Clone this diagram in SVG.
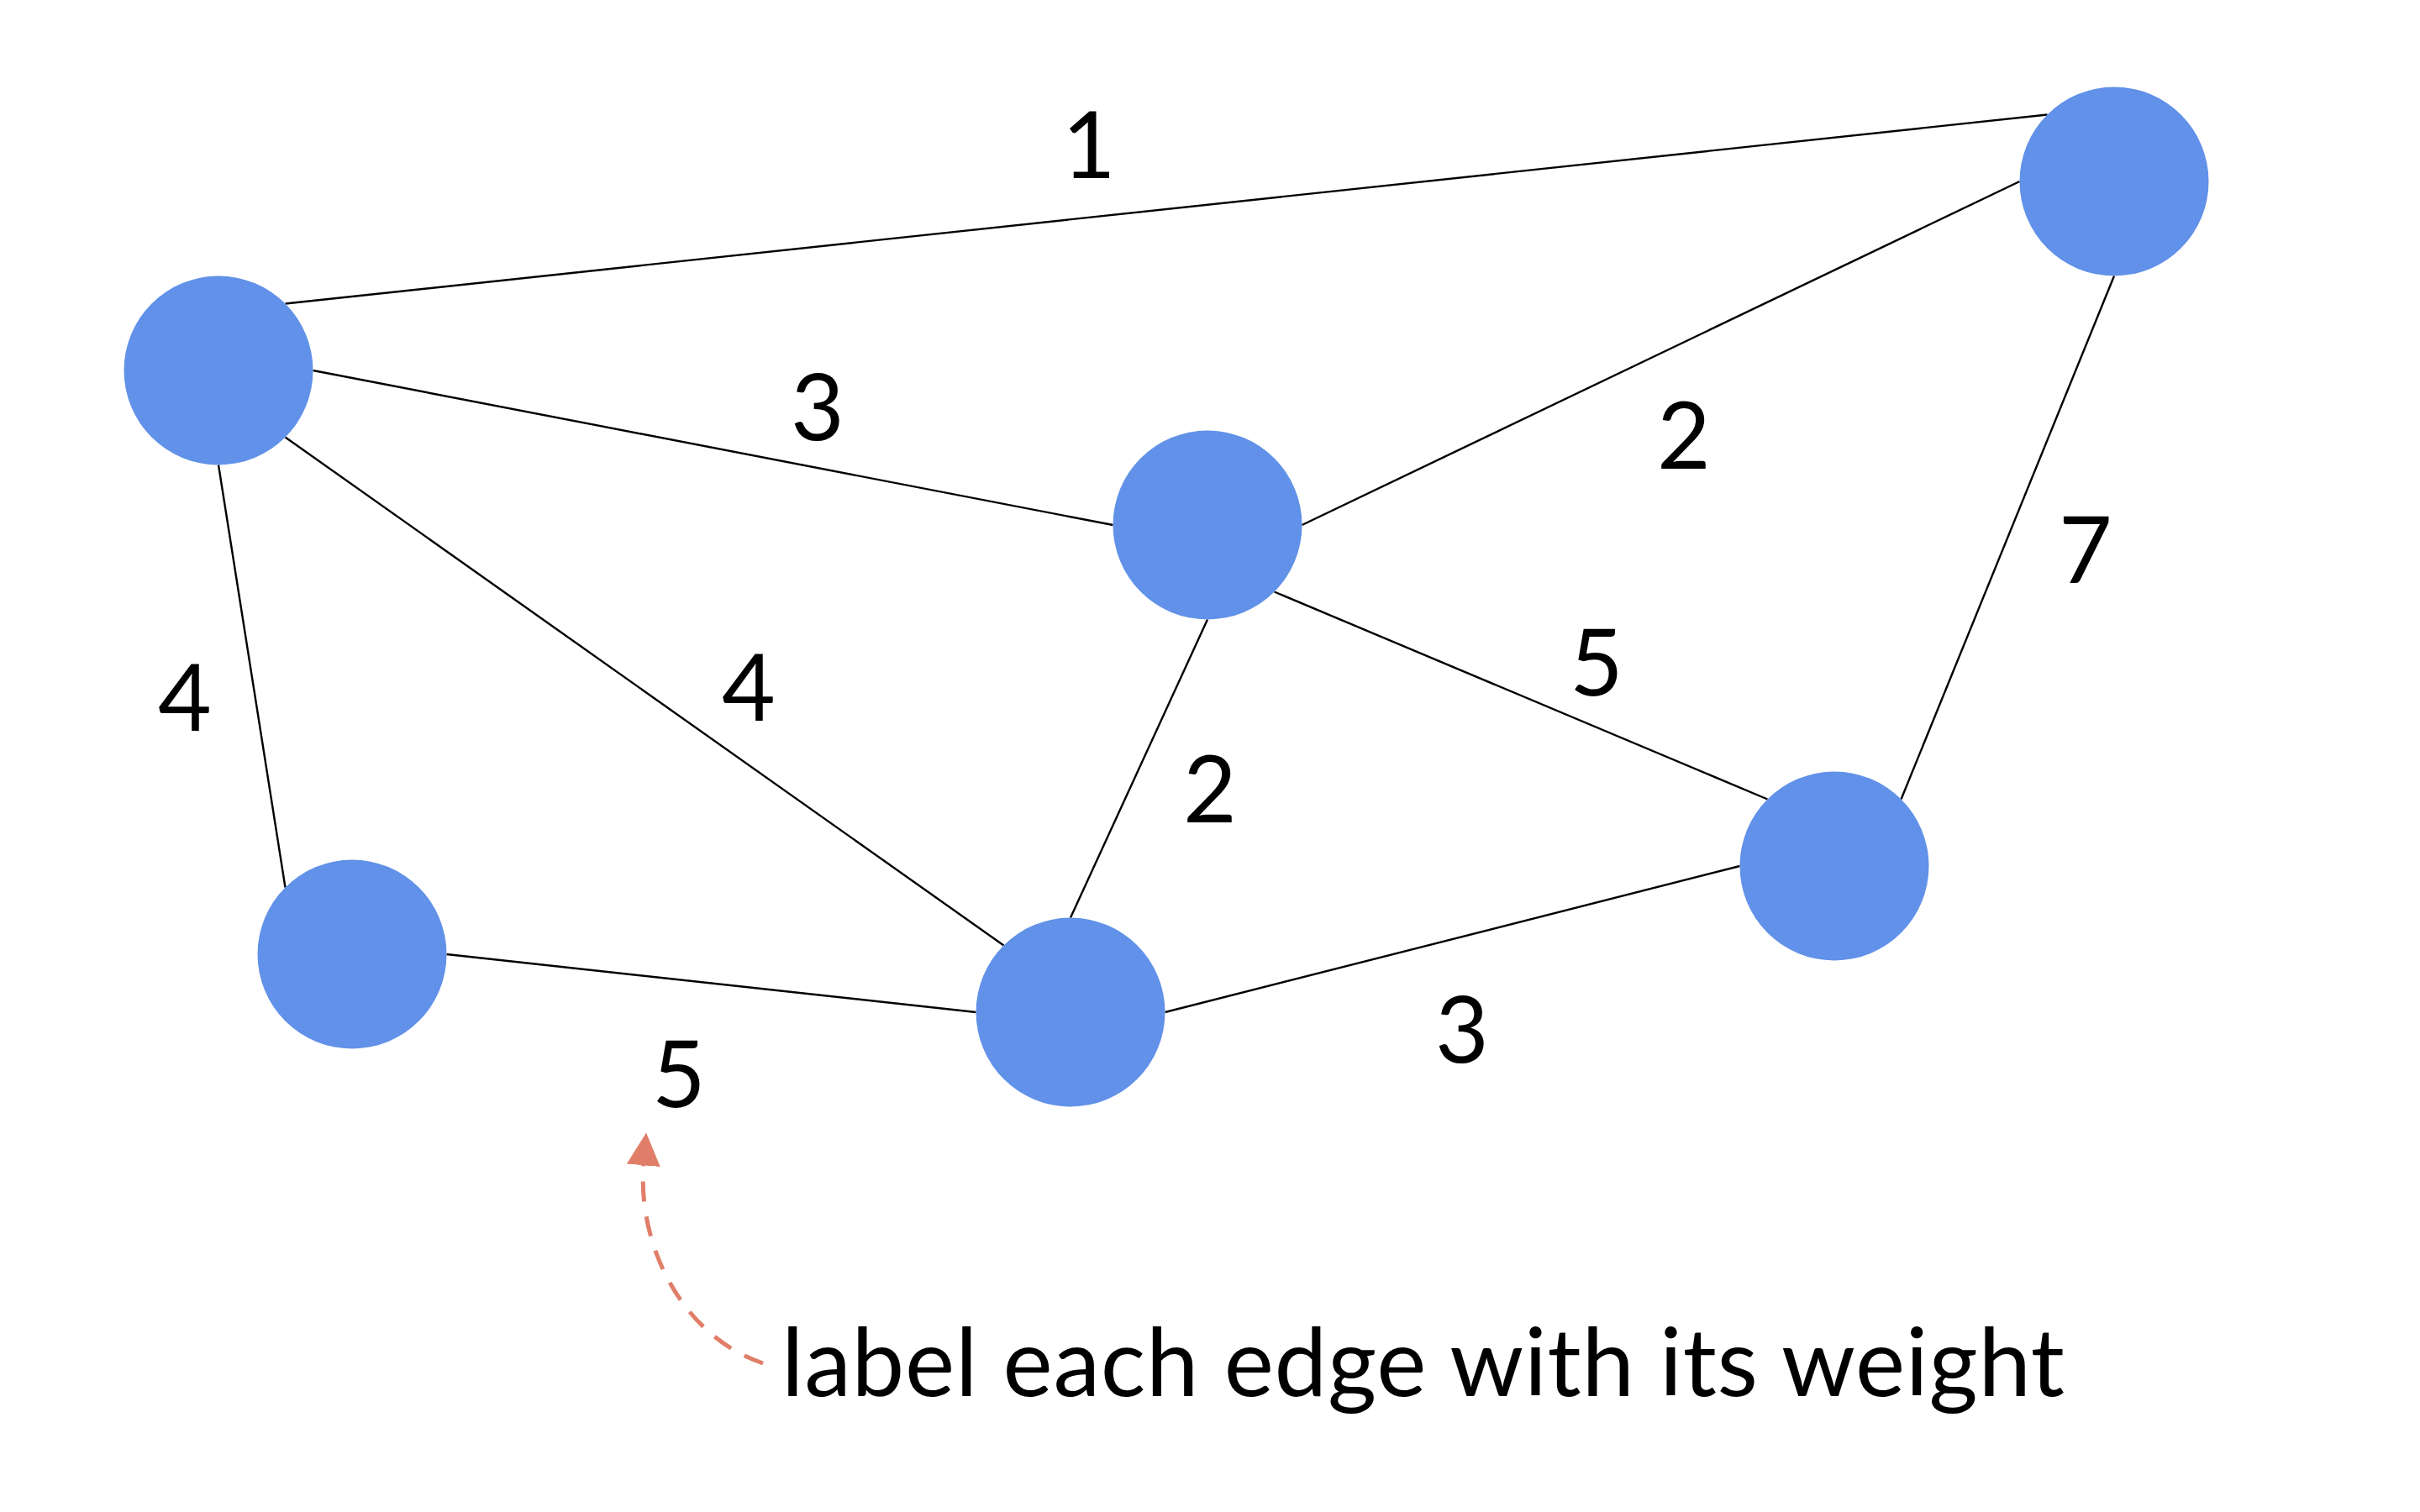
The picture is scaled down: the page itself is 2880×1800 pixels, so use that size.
<svg xmlns="http://www.w3.org/2000/svg" width="2880" height="1800" viewBox="0 0 2880 1800">
  <style>
    .node { fill: #6191E8; }
    .edge { stroke: #000000; stroke-width: 2.4; fill: none; }
    .w { font-family: Lato, "Liberation Sans", sans-serif; font-size: 110px; fill: #000000; text-anchor: middle; }
    .note { font-family: Lato, "Liberation Sans", sans-serif; font-size: 112px; fill: #000000; }
    .callout { stroke: #E07E69; stroke-width: 5; fill: none; stroke-dasharray: 24 18; }
  </style>
  <defs>
    <marker id="arrow" markerUnits="userSpaceOnUse" markerWidth="40" markerHeight="40" viewBox="0 0 36 36" refX="2" refY="18" orient="auto">
      <path d="M0,0 L35,18 L0,36 Z" fill="#E07E69"/>
    </marker>
  </defs>
  <rect x="0" y="0" width="2880" height="1800" fill="#ffffff"/>
  <g id="edges">
    <line class="edge" x1="339.5" y1="361.5" x2="2436.5" y2="136.5"/>
    <line class="edge" x1="372.5" y1="441" x2="1324.5" y2="625"/>
    <line class="edge" x1="339.5" y1="520.5" x2="1194.5" y2="1125.5"/>
    <line class="edge" x1="260" y1="553.5" x2="339.5" y2="1056.5"/>
    <line class="edge" x1="531.5" y1="1136" x2="1161.5" y2="1205"/>
    <line class="edge" x1="1549.5" y1="625" x2="2403.5" y2="216"/>
    <line class="edge" x1="1437" y1="737.5" x2="1274" y2="1092.5"/>
    <line class="edge" x1="1516.5" y1="704.5" x2="2103.5" y2="951.5"/>
    <line class="edge" x1="2516" y1="328.5" x2="2262.5" y2="951.5"/>
    <line class="edge" x1="1386.5" y1="1205" x2="2070.5" y2="1031"/>
  </g>
  <g id="node-a"><circle class="node" cx="260" cy="441" r="112.5"/></g>
  <g id="node-b"><circle class="node" cx="2516" cy="216" r="112.5"/></g>
  <g id="node-c"><circle class="node" cx="1437" cy="625" r="112.5"/></g>
  <g id="node-d"><circle class="node" cx="419" cy="1136" r="112.5"/></g>
  <g id="node-e"><circle class="node" cx="1274" cy="1205" r="112.5"/></g>
  <g id="node-f"><circle class="node" cx="2183" cy="1031" r="112.5"/></g>
  <g id="weights">
    <text class="w" x="1296" y="212">1</text>
    <text class="w" x="973" y="524">3</text>
    <text class="w" x="220" y="870">4</text>
    <text class="w" x="891" y="858">4</text>
    <text class="w" x="2004" y="558">2</text>
    <text class="w" x="2482" y="694">7</text>
    <text class="w" x="1900" y="828">5</text>
    <text class="w" x="1440" y="979">2</text>
    <text class="w" x="808" y="1318">5</text>
    <text class="w" x="1740" y="1265">3</text>
  </g>
  <g id="callout">
    <path class="callout" d="M908,1623 C810,1590 758,1480 766,1385" marker-end="url(#arrow)"/>
    <text class="note" x="930" y="1662" textLength="1527" lengthAdjust="spacing">label each edge with its weight</text>
  </g>
</svg>
